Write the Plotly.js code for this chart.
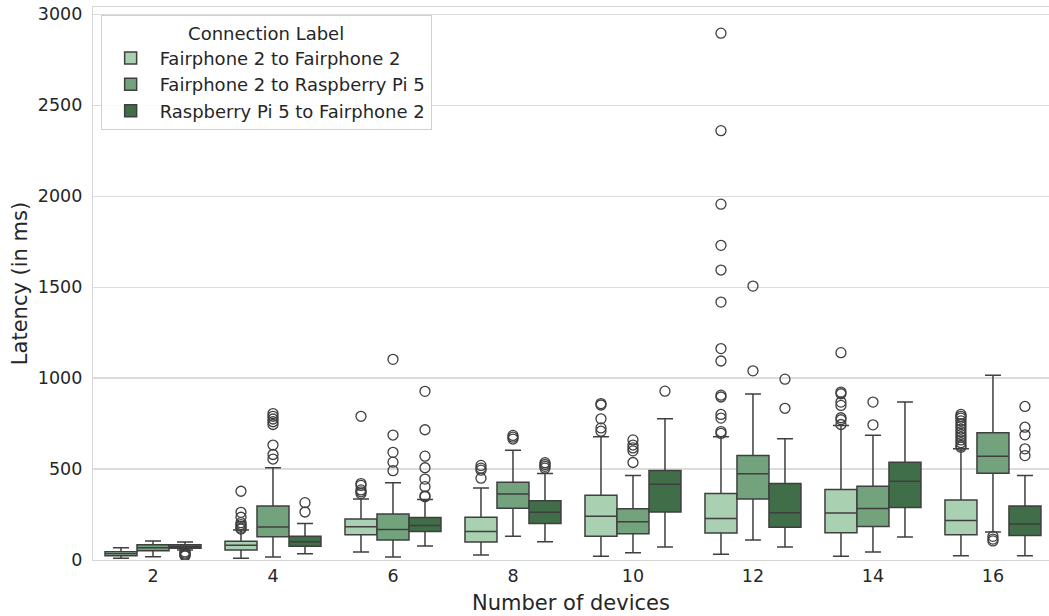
<!DOCTYPE html>
<html>
<head>
<meta charset="utf-8">
<script src="https://cdn.plot.ly/plotly-3.0.1.min.js"></script>
<style>html,body{margin:0;padding:0;background:#fff;}#chart{width:1049px;height:616px;}</style>
</head>
<body>
<div id="chart"></div>
<script>
const categories = ['2','4','6','8','10','12','14','16'];
const seriesNames = ['Fairphone 2 to Fairphone 2','Fairphone 2 to Raspberry Pi 5','Raspberry Pi 5 to Fairphone 2'];
const seriesColors = ['#a9d0b0','#72a37c','#3f6e49'];

// Fairphone 2 to Fairphone 2
const fpfpQ1  = [24, 55, 139, 99, 130, 148, 150, 139];
const fpfpMed = [35, 81, 183, 157, 240, 228, 259, 217];
const fpfpQ3  = [46, 103, 225, 235, 356, 366, 387, 330];
const fpfpLo  = [9, 9, 44, 27, 20, 32, 20, 24];
const fpfpHi  = [68, 165, 335, 396, 678, 678, 739, 611];
const fpfpOut = [
  [],
  [378, 262, 235, 205, 195, 185, 175, 170],
  [790, 420, 410, 385, 375, 365],
  [520, 505, 494, 450],
  [860, 852, 776, 726, 708],
  [2896, 2360, 1956, 1730, 1594, 1418, 1162, 1094, 906, 896, 800, 780, 706, 696],
  [1140, 923, 914, 868, 850, 782, 771, 745],
  [800, 790, 780, 765, 750, 735, 720, 705, 690, 675, 660, 645, 630, 620]
];

// Fairphone 2 to Raspberry Pi 5
const fprpQ1  = [51, 128, 110, 284, 144, 336, 184, 477];
const fprpMed = [68, 181, 168, 363, 210, 474, 283, 571];
const fprpQ3  = [84, 297, 253, 427, 282, 574, 406, 699];
const fprpLo  = [18, 16, 16, 130, 40, 110, 44, 154];
const fprpHi  = [104, 507, 425, 603, 464, 912, 686, 1015];
const fprpOut = [
  [],
  [805, 790, 775, 760, 745, 632, 580, 555],
  [1103, 687, 592, 538, 491],
  [685, 675, 665],
  [660, 632, 616, 600, 536],
  [1506, 1040],
  [868, 743],
  [130, 115, 105]
];

// Raspberry Pi 5 to Fairphone 2
const rpfpQ1  = [64, 75, 156, 201, 264, 180, 288, 134];
const rpfpMed = [73, 100, 189, 262, 416, 260, 433, 198];
const rpfpQ3  = [84, 130, 233, 326, 492, 420, 538, 297];
const rpfpLo  = [55, 35, 77, 101, 72, 72, 127, 24];
const rpfpHi  = [99, 201, 333, 476, 776, 666, 868, 464];
const rpfpOut = [
  [45, 38, 32, 27, 22],
  [315, 264],
  [927, 716, 571, 507, 445, 403, 353, 348],
  [535, 525, 515, 505],
  [928],
  [994, 834],
  [],
  [844, 730, 688, 611, 574]
];

const allStats = [
  {q1: fpfpQ1, med: fpfpMed, q3: fpfpQ3, lo: fpfpLo, hi: fpfpHi, out: fpfpOut},
  {q1: fprpQ1, med: fprpMed, q3: fprpQ3, lo: fprpLo, hi: fprpHi, out: fprpOut},
  {q1: rpfpQ1, med: rpfpMed, q3: rpfpQ3, lo: rpfpLo, hi: rpfpHi, out: rpfpOut}
];

const boxW = 0.8 / 3;
const edge = '#3f3f3f';
const traces = [];
allStats.forEach((s, k) => {
  const off = (k - 1) * boxW;
  const xs = categories.map((c, i) => i + off);
  traces.push({
    type: 'box',
    name: seriesNames[k],
    x: xs,
    q1: s.q1, median: s.med, q3: s.q3,
    lowerfence: s.lo, upperfence: s.hi,
    width: boxW,
    boxpoints: false,
    fillcolor: seriesColors[k],
    line: {color: edge, width: 1.5},
    whiskerwidth: 0.5,
    hoverinfo: 'skip'
  });
});
allStats.forEach((s, k) => {
  const off = (k - 1) * boxW;
  const ox = [], oy = [];
  s.out.forEach((arr, i) => arr.forEach(v => { ox.push(i + off); oy.push(v); }));
  traces.push({
    type: 'scatter', mode: 'markers', x: ox, y: oy, showlegend: false,
    marker: {symbol: 'circle-open', size: 10, color: edge, line: {width: 1.3, color: edge}},
    hoverinfo: 'skip'
  });
});

const layout = {
  width: 1049, height: 616,
  margin: {l: 93, r: 0, t: 7, b: 56},
  paper_bgcolor: '#ffffff', plot_bgcolor: '#ffffff',
  font: {family: 'DejaVu Sans, sans-serif', size: 17.5, color: '#262626'},
  boxmode: 'overlay',
  showlegend: true,
  xaxis: {
    range: [-0.5, 7.467],
    tickvals: categories.map((c, i) => i), ticktext: categories,
    showgrid: false, zeroline: false, ticks: '',
    showline: true, linecolor: '#d6d6d6', linewidth: 1.2, mirror: true,
    tickfont: {size: 17.5, color: '#262626'},
    title: {text: 'Number of devices', font: {size: 21, color: '#262626'}, standoff: 10}
  },
  yaxis: {
    range: [0, 3040], dtick: 500, tick0: 0,
    showgrid: true, gridcolor: '#dcdcdc', gridwidth: 1.2,
    zeroline: false, ticks: '',
    showline: true, linecolor: '#d6d6d6', linewidth: 1.2, mirror: true,
    tickfont: {size: 17.5, color: '#262626'},
    ticklabelstandoff: 6,
    title: {text: 'Latency (in ms)', font: {size: 21, color: '#262626'}, standoff: 4}
  },
  legend: {
    x: 0.008, y: 0.985, xanchor: 'left', yanchor: 'top',
    bgcolor: 'rgba(255,255,255,0.85)', bordercolor: '#d0d0d0', borderwidth: 1,
    font: {size: 18, color: '#262626'},
    title: {text: 'Connection Label', side: 'top center', font: {size: 18, color: '#262626'}},
    tracegroupgap: 0, itemwidth: 48
  }
};

Plotly.newPlot('chart', traces, layout, {displayModeBar: false, staticPlot: true});
</script>
</body>
</html>
